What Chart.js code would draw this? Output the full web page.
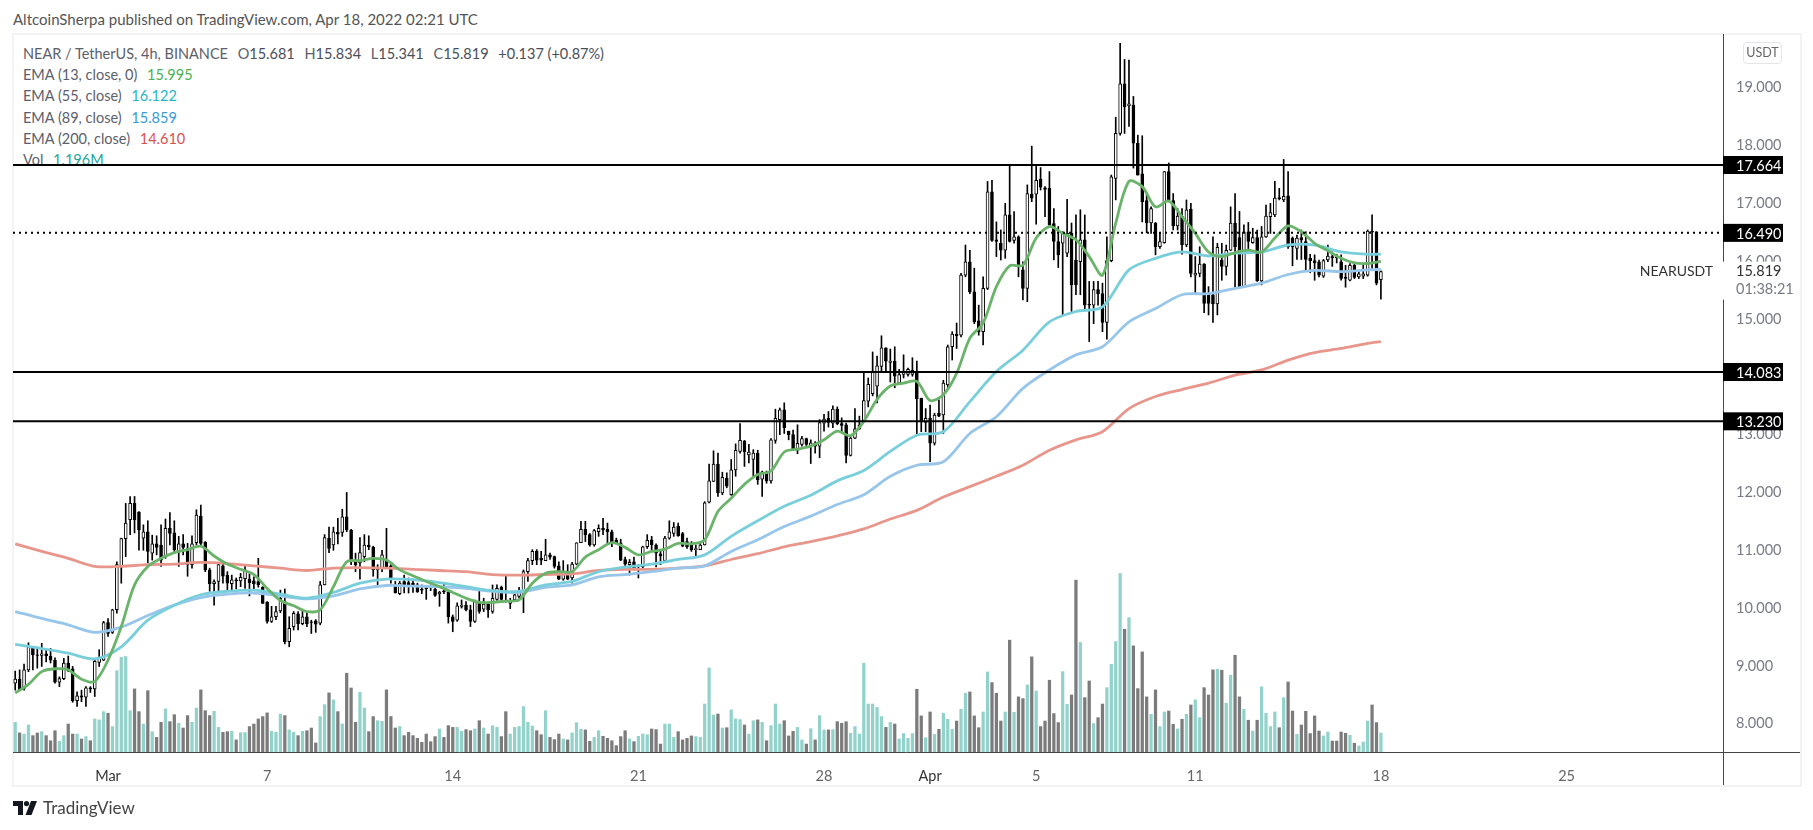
<!DOCTYPE html>
<html lang="en">
<head>
    <meta charset="UTF-8">
    <title>NEAR / TetherUS, 4h, BINANCE</title>
    <script src="https://cdn.jsdelivr.net/npm/chart.js@4"></script>
    <style>
        html, body { margin: 0; padding: 0; background: #fff; overflow: hidden; }
        body { width: 1813px; height: 830px; position: relative; font-family: Lato, 'Open Sans', sans-serif; color: #5d606b; }
        #published { position: absolute; left: 13px; top: 10px; font-size: 15px; color: #555; white-space: nowrap; }
        #panel { position: absolute; left: 12px; top: 33px; width: 1786px; height: 750px; border: 2px solid #f2f3f6; }
        #legend { position: absolute; left: 23px; top: 43px; font-size: 14.5px; line-height: 21.2px; white-space: nowrap; }
        #legend span { margin-left: 6px; }
        #legend b { font-weight: 400; color: #4a4e59; }
        #unit { position: absolute; left: 1743px; top: 42px; width: 37px; height: 20px; border: 1px solid #e3e5ea; border-radius: 4px; font-size: 12.5px; line-height: 20px; text-align: center; color: #666; }
        #brand { position: absolute; left: 13px; top: 797px; font-size: 17px; color: #444; display: flex; align-items: center; gap: 6px; }
        canvas { position: absolute; left: 0; top: 0; z-index: 1; }
        #unit, #brand { z-index: 2; }
    </style>
</head>
<body>
    <div id="published">AltcoinSherpa published on TradingView.com, Apr 18, 2022 02:21 UTC</div>
    <div id="panel"></div>
    <div id="legend">
        <div>NEAR / TetherUS, 4h, BINANCE <span>O<b>15.681</b></span> <span>H<b>15.834</b></span> <span>L<b>15.341</b></span> <span>C<b>15.819</b></span> <span><b>+0.137 (+0.87%)</b></span></div>
        <div>EMA (13, close, 0) <span style="color:#4caf50">15.995</span></div>
        <div>EMA (55, close) <span style="color:#26b5c9">16.122</span></div>
        <div>EMA (89, close) <span style="color:#3a9ad9">15.859</span></div>
        <div>EMA (200, close) <span style="color:#d9534f">14.610</span></div>
        <div>Vol <span style="color:#26a69a">1.196M</span></div>
    </div>
    <div id="unit">USDT</div>
    <div id="brand">
        <svg width="24" height="14" viewBox="0 0 24 14"><path d="M0 0h10v14H5V5H0z" fill="#131722"/><circle cx="13.5" cy="2.6" r="2.6" fill="#131722"/><path d="M18 0h6l-5.5 14h-6z" fill="#131722"/></svg>
        <span>TradingView</span>
    </div>
    <canvas id="chart" width="1813" height="830"></canvas>

    <script>
        // one entry per 4h candle
        var opens = [
            8.70,8.77,8.61,8.93,9.32,9.19,9.18,9.21,9.17,9.10,
            8.72,8.78,9.05,8.95,8.40,8.48,8.46,8.62,8.60,9.06,
            9.10,9.75,9.58,9.97,10.72,11.20,11.53,11.81,11.66,11.21,
            11.32,10.95,11.11,11.09,10.89,11.38,11.30,10.98,11.11,11.03,
            10.75,11.13,11.59,11.14,10.66,10.42,10.46,10.73,10.57,10.42,
            10.49,10.47,10.51,10.50,10.47,10.46,10.36,10.10,9.77,9.85,
            9.95,10.11,9.42,9.68,9.90,9.73,9.85,9.76,9.78,9.74,
            10.40,11.21,11.09,11.31,11.31,11.58,11.35,10.82,10.78,10.89,
            11.09,11.05,10.66,10.69,10.84,10.73,10.40,10.25,10.46,10.44,
            10.43,10.40,10.33,10.34,10.36,10.33,10.25,10.30,10.27,9.85,
            9.79,10.03,10.05,9.97,9.77,10.10,9.98,10.07,9.94,10.15,
            10.36,10.14,10.08,10.14,10.20,10.23,10.63,10.82,10.98,10.86,
            10.82,10.92,10.89,10.73,10.50,10.60,10.52,10.76,11.13,11.36,
            11.27,11.09,11.32,11.38,11.36,11.32,11.17,11.13,10.84,10.75,
            10.80,10.66,10.71,11.06,11.18,11.09,10.94,10.82,11.21,11.29,
            11.42,11.29,11.15,11.09,11.01,11.01,11.09,11.83,12.19,12.49,
            11.99,12.25,11.96,12.39,12.71,12.89,12.65,12.57,12.68,12.23,
            12.34,12.20,12.90,13.26,13.43,13.06,13.00,12.73,12.83,12.93,
            12.80,12.85,12.80,13.20,13.28,13.20,13.44,13.19,13.17,12.64,
            12.94,13.10,13.23,13.58,13.71,13.84,14.18,14.50,14.25,14.27,
            13.89,14.04,14.04,14.04,14.10,13.63,13.21,13.28,12.85,13.37,
            13.34,13.86,14.52,14.74,14.72,15.76,15.99,15.47,14.97,14.78,
            15.53,17.20,16.37,16.31,16.19,16.80,16.36,16.42,15.85,15.53,
            17.16,17.16,17.42,17.27,17.26,16.65,16.34,16.31,16.14,16.48,
            16.02,15.99,16.37,15.26,15.24,15.51,15.44,14.94,16.01,17.43,
            18.21,19.07,18.69,18.70,18.04,17.51,17.05,16.66,16.66,16.25,
            16.32,17.55,17.05,16.61,16.78,16.28,16.90,15.76,15.79,15.95,
            15.44,15.42,15.26,16.02,15.91,16.19,16.66,16.41,15.56,16.51,
            16.32,16.41,15.66,16.42,16.77,16.80,17.10,17.06,17.13,16.40,
            16.22,16.41,16.34,16.05,16.01,15.99,15.74,16.02,16.08,16.08,
            15.99,15.72,15.67,15.93,15.73,15.74,15.76,16.52,16.51,15.681
        ];
        var closes = [
            8.77,8.59,8.93,9.32,9.19,9.18,9.21,9.17,9.10,8.72,
            8.78,9.05,8.95,8.40,8.48,8.46,8.62,8.60,9.08,9.14,
            9.75,9.56,9.97,10.75,11.20,11.47,11.81,11.53,11.35,11.32,
            10.98,11.11,11.05,10.83,11.38,11.29,11.01,11.11,11.05,10.75,
            11.11,11.61,11.12,10.66,10.42,10.46,10.75,10.55,10.43,10.49,
            10.47,10.53,10.66,10.44,10.42,10.40,10.08,9.77,9.85,9.94,
            10.17,9.42,9.65,9.91,9.73,9.85,9.73,9.75,9.72,10.40,
            11.22,11.03,11.32,11.28,11.58,11.35,10.80,10.75,10.96,11.09,
            11.06,10.66,10.71,10.92,10.71,10.52,10.26,10.43,10.40,10.39,
            10.39,10.28,10.31,10.33,10.35,10.22,10.27,10.28,9.85,9.77,
            10.04,10.05,9.97,9.77,10.11,9.94,10.07,9.97,10.17,10.34,
            10.15,10.12,10.13,10.23,10.29,10.63,10.82,10.98,10.83,10.83,
            10.92,10.88,10.72,10.50,10.63,10.50,10.76,11.13,11.36,11.27,
            11.09,11.34,11.38,11.35,11.32,11.13,11.13,10.83,10.76,10.79,
            10.67,10.69,11.06,11.17,11.09,10.95,10.90,11.21,11.32,11.40,
            11.25,11.07,11.06,11.01,11.03,11.09,11.82,12.20,12.49,11.99,
            12.26,12.11,12.39,12.73,12.90,12.70,12.70,12.68,12.22,12.35,
            12.20,12.91,13.28,13.43,13.12,13.00,12.74,12.85,12.93,12.83,
            12.86,12.80,13.21,13.27,13.21,13.44,13.19,13.16,12.64,12.94,
            13.10,13.16,13.59,13.87,14.10,14.19,14.50,14.27,14.27,14.01,
            14.04,14.10,14.13,14.11,13.62,13.22,13.28,12.85,13.34,13.32,
            13.89,14.52,14.74,14.71,15.76,15.99,15.47,14.95,14.78,15.53,
            17.20,16.36,16.34,16.19,16.80,16.34,16.42,15.93,15.53,17.17,
            17.09,17.40,17.28,17.24,16.63,16.34,16.11,16.48,16.48,15.59,
            15.59,16.37,15.24,15.24,15.51,15.44,14.94,16.01,17.46,18.21,
            19.07,18.67,18.72,18.04,17.49,17.03,16.66,16.91,16.25,16.34,
            17.55,17.06,16.61,16.78,16.28,16.89,15.79,15.79,15.95,15.27,
            15.27,15.26,16.24,15.91,16.19,16.66,16.25,15.56,16.51,16.34,
            16.41,15.66,16.42,16.78,16.84,17.09,17.08,17.12,16.25,16.25,
            16.40,16.37,16.03,16.01,15.97,15.76,16.01,16.09,16.06,16.06,
            15.70,15.70,15.93,15.72,15.78,15.78,16.52,16.50,15.62,15.819
        ];
        var highs = [
            8.91,8.93,9.03,9.40,9.33,9.30,9.39,9.29,9.30,9.14,
            8.81,9.13,9.17,8.99,8.55,8.58,8.64,8.64,9.10,9.28,
            9.77,9.82,9.98,10.80,11.21,11.81,11.93,11.93,11.67,11.44,
            11.51,11.26,11.25,11.44,11.54,11.65,11.51,11.24,11.27,11.12,
            11.25,11.70,11.78,11.15,10.69,10.49,10.78,10.77,10.63,10.57,
            10.52,10.60,10.72,10.59,10.54,10.86,10.37,10.11,10.03,10.03,
            10.31,10.33,9.85,9.94,9.94,9.97,9.92,9.79,9.80,10.46,
            11.27,11.40,11.40,11.55,11.71,12.00,11.36,10.95,11.22,11.27,
            11.25,11.07,10.75,11.00,11.38,10.75,10.46,10.46,10.57,10.52,
            10.50,10.43,10.40,10.37,10.40,10.36,10.29,10.44,10.29,9.88,
            10.09,10.14,10.11,10.05,10.14,10.30,10.17,10.08,10.40,10.40,
            10.38,10.56,10.17,10.29,10.36,10.66,10.86,11.01,11.01,10.98,
            11.19,10.95,10.90,10.80,10.82,10.75,10.79,11.13,11.50,11.50,
            11.29,11.36,11.44,11.55,11.47,11.35,11.21,11.19,10.88,10.84,
            10.88,10.75,11.07,11.27,11.24,11.11,11.01,11.24,11.51,11.48,
            11.47,11.31,11.21,11.15,11.09,11.12,11.84,12.49,12.72,12.68,
            12.35,12.34,12.57,12.84,13.19,12.90,12.83,12.74,12.73,12.37,
            12.37,12.93,13.44,13.46,13.55,13.06,13.08,13.17,12.97,12.94,
            12.91,12.88,13.26,13.35,13.40,13.50,13.48,13.29,13.20,12.97,
            13.45,13.32,14.08,13.98,14.43,14.36,14.71,14.50,14.48,14.52,
            14.13,14.38,14.15,14.33,14.27,13.63,13.45,13.51,13.37,13.60,
            13.94,14.55,14.78,14.93,15.79,16.28,16.19,15.88,15.24,15.73,
            17.38,17.40,16.68,16.54,17.00,17.65,16.86,16.44,15.99,17.32,
            17.99,17.64,17.62,17.29,17.55,16.91,16.60,16.51,17.07,16.66,
            16.80,16.89,16.80,15.65,15.65,15.65,15.62,16.42,17.49,18.49,
            19.77,19.49,19.48,18.85,18.18,18.17,17.17,16.94,16.67,16.48,
            17.55,17.70,17.17,16.91,16.91,17.06,17.00,16.08,16.25,15.96,
            15.56,16.42,16.31,16.31,16.28,16.94,17.17,16.86,16.63,16.67,
            16.57,16.54,16.60,16.97,17.00,17.38,17.26,17.76,17.55,16.42,
            16.45,16.54,16.51,16.12,16.11,16.02,16.03,16.28,16.16,16.12,
            16.11,15.93,15.96,15.95,15.82,15.93,16.54,16.80,16.51,15.834
        ];
        var lows = [
            8.58,8.58,8.58,8.90,8.93,8.96,8.99,9.07,9.05,8.70,
            8.64,8.76,8.90,8.37,8.30,8.38,8.30,8.54,8.47,8.99,
            9.09,9.51,9.56,9.91,10.43,10.89,11.27,11.30,11.00,11.00,
            10.78,10.83,10.92,10.72,10.86,11.09,10.95,10.72,10.92,10.55,
            10.69,11.09,11.09,10.63,10.29,10.05,10.29,10.43,10.29,10.29,
            10.33,10.37,10.34,10.21,10.33,10.36,10.08,9.74,9.75,9.80,
            9.92,9.38,9.33,9.62,9.62,9.71,9.68,9.56,9.58,9.71,
            10.40,10.96,11.00,11.11,11.24,11.32,10.75,10.63,10.50,10.80,
            11.01,10.55,10.37,10.63,10.69,10.43,10.26,10.23,10.26,10.26,
            10.27,10.27,10.25,10.15,10.30,10.20,10.03,10.25,9.74,9.59,
            9.77,10.00,9.95,9.68,9.75,9.91,9.94,9.84,9.91,10.13,
            10.14,10.10,9.99,10.11,10.17,9.92,10.46,10.75,10.75,10.75,
            10.82,10.84,10.69,10.49,10.48,10.49,10.43,10.75,11.13,11.15,
            11.07,11.07,11.24,11.27,11.12,11.06,11.11,10.82,10.69,10.57,
            10.66,10.52,10.69,11.03,11.01,10.71,10.75,10.79,11.19,11.24,
            11.24,11.06,11.03,10.98,10.88,11.01,11.09,11.82,12.19,11.93,
            11.96,12.08,11.95,12.28,12.68,12.45,12.51,12.28,12.14,11.93,
            12.16,12.16,12.85,13.00,13.02,12.91,12.73,12.67,12.80,12.81,
            12.50,12.68,12.60,13.06,13.13,13.12,13.17,13.03,12.51,12.63,
            12.93,13.09,13.23,13.48,13.67,13.55,14.08,14.07,13.91,13.81,
            13.87,13.98,14.01,14.01,13.00,13.05,13.05,12.53,12.82,13.31,
            13.02,13.80,14.29,14.49,14.69,15.73,15.44,14.92,14.72,14.55,
            15.51,16.34,16.08,16.02,16.05,16.33,16.31,15.73,15.33,15.30,
            17.03,16.64,17.23,16.77,16.60,16.02,15.89,15.07,16.08,15.13,
            15.42,15.42,15.16,14.61,14.92,15.24,14.78,14.65,15.99,17.06,
            18.18,18.21,18.33,17.61,17.49,16.68,16.49,16.48,16.11,16.22,
            16.31,17.03,16.54,16.54,16.12,16.25,15.73,15.42,15.73,15.11,
            15.07,14.94,15.07,15.67,15.76,16.18,15.55,15.55,15.55,16.19,
            16.31,15.65,15.59,16.41,16.48,16.77,17.06,17.03,16.22,15.92,
            16.03,16.03,15.82,15.80,15.67,15.73,15.72,15.99,15.91,15.97,
            15.67,15.55,15.66,15.70,15.70,15.70,15.74,15.85,15.59,15.341
        ];
        // volume in millions
        var volumes = [
            1.87,1.20,1.13,1.70,1.03,1.20,1.28,1.03,.71,1.34,
            .67,1.03,1.76,1.13,1.13,.82,.97,.71,2.08,2.02,
            2.54,2.44,1.60,5.12,5.96,6.01,2.60,3.97,2.54,1.76,
            3.86,1.28,.92,1.87,2.71,1.91,2.35,1.81,1.51,2.29,
            1.87,2.77,3.91,2.60,2.29,2.56,1.55,1.24,1.28,1.30,
            .76,1.22,1.22,1.60,1.76,2.08,2.23,2.46,1.30,1.24,
            2.39,2.29,1.39,1.24,1.03,1.30,1.34,1.51,.57,2.23,
            2.98,3.72,3.28,2.54,1.76,4.96,4.03,1.87,3.76,2.77,
            1.28,2.23,1.97,1.93,3.91,2.23,1.51,1.60,1.03,1.24,
            1.03,.86,.61,1.13,.65,.97,1.45,.92,1.66,1.55,
            1.55,1.30,1.41,1.34,1.45,1.97,1.51,1.13,1.66,1.55,
            .97,2.54,1.13,1.55,1.60,2.86,1.87,1.64,1.34,1.09,
            2.60,.92,.78,1.13,.82,.76,1.20,1.85,1.43,1.39,
            .67,.92,1.34,.99,.86,.71,.40,.97,1.34,.82,
            .65,.99,1.13,1.09,1.45,1.41,.50,1.76,1.76,.92,
            1.28,.76,.86,1.01,.97,.92,3.02,5.29,2.33,2.39,
            1.51,1.53,2.65,2.08,2.04,1.70,1.13,1.97,2.02,1.87,
            .71,1.66,3.02,1.76,1.97,1.01,1.30,1.55,.76,.50,
            1.47,.76,2.29,1.39,1.39,1.41,1.91,1.81,1.91,1.18,
            1.60,1.13,5.59,3.02,3.02,2.81,2.23,1.55,1.87,1.76,
            .82,1.16,.86,1.16,3.95,2.27,.90,2.52,1.11,1.43,
            2.44,2.06,1.43,1.95,2.69,3.70,3.78,2.27,1.53,2.52,
            5.04,4.37,3.70,1.95,2.52,7.04,2.50,3.47,3.36,4.22,
            5.99,3.84,1.60,1.95,4.52,2.42,1.85,5.06,3.00,3.59,
            10.82,6.89,3.42,4.47,1.79,2.16,3.02,4.05,5.52,6.95,
            11.24,7.73,8.46,6.68,3.99,6.30,3.47,2.37,3.91,1.60,
            2.52,2.58,1.74,1.45,2.06,2.37,2.96,3.28,2.16,4.05,
            3.59,5.17,5.21,5.15,3.07,4.83,6.09,3.47,2.69,2.00,
            1.32,2.00,4.10,2.44,1.60,2.52,1.53,3.42,4.41,2.58,
            1.11,1.70,2.56,1.16,2.27,1.32,1.01,1.26,.69,.69,
            1.26,1.18,1.05,.55,.38,.63,1.95,2.96,1.85,1.196
        ];

        // EMA 13 read every 3rd candle
        var ema13 = [
            8.53,8.68,8.90,8.95,8.93,8.77,8.73,9.10,9.68,10.40,
            10.72,10.86,10.96,11.01,11.07,10.90,10.76,10.67,10.58,10.34,
            10.13,10.04,9.94,9.97,10.37,10.80,10.82,10.86,10.83,10.66,
            10.56,10.46,10.37,10.27,10.17,10.10,10.10,10.12,10.14,10.43,
            10.60,10.63,10.63,10.88,11.01,11.13,11.05,10.92,10.98,11.02,
            11.12,11.11,11.18,11.67,11.90,12.14,12.31,12.37,12.70,12.75,
            12.80,12.91,13.06,12.98,13.23,13.61,13.84,13.89,13.92,13.59,
            13.69,14.06,14.67,14.93,15.56,15.92,15.93,16.40,16.60,16.48,
            16.37,16.08,15.76,16.66,17.38,17.29,16.94,17.04,16.77,16.48,
            16.16,16.08,16.15,16.19,16.16,16.40,16.61,16.51,16.31,16.18,
            16.05,15.97,15.96,15.995
        ];
        // slower EMAs read every 6th candle, plus the last candle
        var ema55 = [
            9.37,9.30,9.22,9.12,9.33,9.79,10.05,10.23,10.29,10.31,
            10.24,10.17,10.27,10.43,10.50,10.49,10.44,10.37,10.30,10.29,
            10.40,10.46,10.63,10.71,10.76,10.84,10.92,11.24,11.51,11.76,
            11.95,12.20,12.38,12.71,12.99,13.05,13.57,14.09,14.46,14.95,
            15.13,15.21,15.85,16.05,16.16,16.09,16.14,16.16,16.28,16.28,
            16.16,16.12,16.122
        ];
        var ema89 = [
            9.94,9.82,9.71,9.58,9.67,9.87,10.05,10.18,10.24,10.26,
            10.21,10.16,10.21,10.33,10.39,10.38,10.37,10.34,10.29,10.27,
            10.36,10.40,10.54,10.58,10.63,10.69,10.73,10.98,11.18,11.41,
            11.59,11.79,11.96,12.28,12.47,12.53,13.02,13.31,13.80,14.12,
            14.38,14.52,14.95,15.18,15.42,15.44,15.53,15.62,15.77,15.84,
            15.82,15.85,15.859
        ];
        var ema200 = [
            11.11,10.98,10.86,10.72,10.72,10.75,10.76,10.79,10.77,10.73,
            10.69,10.65,10.69,10.70,10.69,10.67,10.65,10.63,10.58,10.57,
            10.58,10.59,10.65,10.67,10.67,10.69,10.73,10.84,10.94,11.06,
            11.15,11.25,11.37,11.54,11.69,11.92,12.10,12.28,12.47,12.73,
            12.91,13.05,13.45,13.66,13.78,13.89,14.03,14.12,14.29,14.42,
            14.49,14.58,14.610
        ];

        var priceTicks = [8, 9, 10, 11, 12, 13, 14, 15, 16, 17, 18, 19];
        // candle number of each date label
        var dateTicks = [21, 57, 99, 141, 183, 207, 231, 267, 309, 351];
        var dateLabels = ['Mar', '7', '14', '21', '28', 'Apr', '5', '11', '18', '25'];
        var solidLevels = [17.664, 14.083, 13.230];
        var dottedLevels = [16.490];
        var lastPrice = 15.819;
        var countdown = '01:38:21';

        var fastBars = ema13.map(function(v, i) { return i * 3; });
        var slowBars = ema55.map(function(v, i) { return i === ema55.length - 1 ? opens.length - 1 : i * 6; });

        var X_MIN = -0.5, X_MAX = 386.4;
        var AXIS_COLOR = '#454545';
        var LABEL_FONT = "Lato, 'Open Sans', sans-serif";

        function lineSet(values, bars, color, order) {
            return {
                type: 'line',
                data: values.map(function(v, i) { return { x: bars[i], y: v }; }),
                borderColor: color,
                borderWidth: 2.8,
                pointRadius: 0,
                tension: 0.3,
                order: order
            };
        }

        function levelSet(level, dash, order) {
            return {
                type: 'line',
                data: [{ x: X_MIN, y: level }, { x: X_MAX, y: level }],
                borderColor: '#000',
                borderWidth: 2,
                borderDash: dash,
                pointRadius: 0,
                order: order
            };
        }

        var datasets = [
            {
                data: volumes.map(function(v, i) { return { x: i, y: v }; }),
                yAxisID: 'vol',
                grouped: false,
                barThickness: 2.6,
                backgroundColor: volumes.map(function(v, i) { return closes[i] >= opens[i] ? '#93d2ca' : '#7b7b7b'; }),
                order: 9
            },
            {
                data: highs.map(function(v, i) { return { x: i, y: [lows[i], v] }; }),
                grouped: false,
                barThickness: 1,
                backgroundColor: '#000',
                order: 8
            },
            {
                data: opens.map(function(v, i) { return { x: i, y: [v, closes[i]] }; }),
                grouped: false,
                barThickness: 3,
                backgroundColor: opens.map(function(v, i) { return closes[i] >= v ? '#fff' : '#000'; }),
                borderColor: '#000',
                borderWidth: 1,
                borderSkipped: false,
                order: 7
            },
            lineSet(ema200, slowBars, '#e8968c', 6),
            lineSet(ema89, slowBars, '#97c6ea', 5),
            lineSet(ema55, slowBars, '#78cfdb', 4),
            lineSet(ema13, fastBars, '#6ab36a', 3)
        ];
        solidLevels.forEach(function(level) { datasets.push(levelSet(level, [], 2)); });
        dottedLevels.forEach(function(level) { datasets.push(levelSet(level, [2, 4], 2)); });

        // axis rules, price tags and the last price block
        var overlay = {
            id: 'overlay',
            afterDraw: function(chart) {
                var ctx = chart.ctx, area = chart.chartArea, y = chart.scales.y;
                ctx.save();
                ctx.strokeStyle = AXIS_COLOR;
                ctx.lineWidth = 1;
                ctx.beginPath();
                ctx.moveTo(area.right + 0.5, area.top);
                ctx.lineTo(area.right + 0.5, 785);
                ctx.moveTo(area.left, area.bottom + 0.5);
                ctx.lineTo(1800, area.bottom + 0.5);
                ctx.stroke();

                ctx.font = '14.5px ' + LABEL_FONT;
                ctx.textBaseline = 'middle';
                ctx.textAlign = 'left';

                // last price sits on top of the 16.000 tick and breaks the axis line
                var py = y.getPixelForValue(lastPrice);
                ctx.fillStyle = '#fff';
                ctx.fillRect(area.right, py - 10, 62, 38);
                ctx.fillStyle = '#333';
                ctx.fillText(lastPrice.toFixed(3), area.right + 13, py);
                ctx.fillStyle = '#787b86';
                ctx.fillText(countdown, area.right + 13, py + 18);
                ctx.fillStyle = '#333';
                ctx.font = '14px ' + LABEL_FONT;
                ctx.textAlign = 'right';
                ctx.fillText('NEARUSDT', area.right - 10, py);

                ctx.textAlign = 'left';
                ctx.font = '14.5px ' + LABEL_FONT;
                solidLevels.concat(dottedLevels).forEach(function(level) {
                    var ly = y.getPixelForValue(level);
                    ctx.fillStyle = '#000';
                    ctx.fillRect(area.right, ly - 9, 60, 18);
                    ctx.fillStyle = '#fff';
                    ctx.fillText(level.toFixed(3), area.right + 13, ly + 1);
                });
                ctx.restore();
            }
        };

        new Chart(document.getElementById('chart').getContext('2d'), {
            type: 'bar',
            data: { datasets: datasets },
            plugins: [overlay],
            options: {
                responsive: false,
                animation: false,
                devicePixelRatio: 1,
                events: [],
                layout: { padding: { left: 13, right: 13, top: 34, bottom: 44 } },
                plugins: { legend: { display: false }, tooltip: { enabled: false } },
                scales: {
                    x: {
                        type: 'linear',
                        min: X_MIN,
                        max: X_MAX,
                        offset: false,
                        grid: { display: false },
                        border: { display: false },
                        afterBuildTicks: function(scale) {
                            scale.ticks = dateTicks.map(function(v) { return { value: v }; });
                        },
                        afterFit: function(scale) { scale.height = 34; },
                        ticks: {
                            autoSkip: false,
                            maxRotation: 0,
                            padding: 8,
                            color: function(c) { return isNaN(dateLabels[dateTicks.indexOf(c.tick.value)]) ? '#333' : '#666'; },
                            font: { family: LABEL_FONT, size: 14.5 },
                            callback: function(v) { return dateLabels[dateTicks.indexOf(v)]; }
                        }
                    },
                    y: {
                        type: 'linear',
                        position: 'right',
                        min: 7.51,
                        max: 19.93,
                        grid: { display: false, drawTicks: false },
                        border: { display: false },
                        afterBuildTicks: function(scale) {
                            scale.ticks = priceTicks.map(function(v) { return { value: v }; });
                        },
                        afterFit: function(scale) { scale.width = 77; },
                        ticks: {
                            padding: 13,
                            color: '#787b86',
                            font: { family: LABEL_FONT, size: 14.5 },
                            callback: function(v) { return v.toFixed(3); }
                        }
                    },
                    vol: {
                        type: 'linear',
                        display: false,
                        min: 0,
                        max: 45.2
                    }
                }
            }
        });
    </script>
</body>
</html>
